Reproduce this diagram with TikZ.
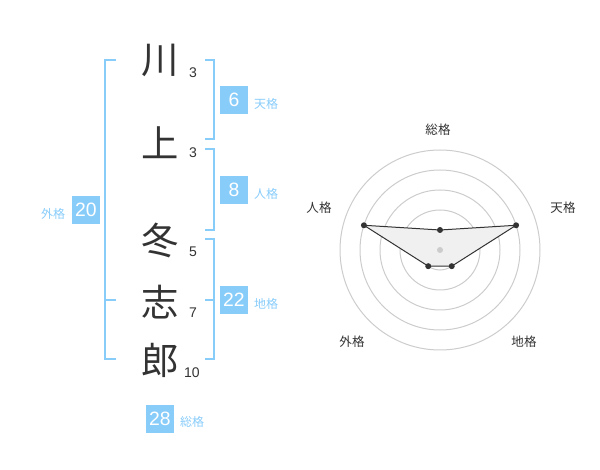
\documentclass[tikz,border=0pt]{standalone}
\usepackage{fontspec}
\setmainfont{Liberation Sans}
\newfontfamily\cjk{Noto Sans CJK JP}
\definecolor{kaku}{HTML}{88CCFA}
\definecolor{sumi}{HTML}{333333}
\definecolor{wa}{HTML}{CCCCCC}
\definecolor{naka}{HTML}{F0F0F0}

\begin{document}
\begin{tikzpicture}[x=0.75pt,y=-0.75pt,
    kanji/.style={font=\cjk\fontsize{28}{28}\selectfont, text=sumi, inner sep=0pt},
    kakusu/.style={font=\fontsize{10.5}{10.5}\selectfont, text=sumi, inner sep=0pt},
    hako/.style={fill=kaku, minimum size=21.5pt, inner sep=0pt, text=white, font=\fontsize{14.5}{14.5}\selectfont},
    mei/.style={font=\cjk\fontsize{9}{9}\selectfont, text=kaku, inner sep=0pt},
    rmei/.style={font=\cjk\fontsize{9.4}{9.4}\selectfont, text=sumi, inner sep=0pt},
    kakko/.style={kaku, line width=1.5pt},
    ten/.style={fill=sumi, draw=none}]
    \useasboundingbox (0,0) rectangle (600,470);

    % name
    \node[kanji] (k1) at (160,60) {川};
    \node[kanji] (k2) at (160,143) {上};
    \node[kanji] (k3) at (160,240) {冬};
    \node[kanji] (k4) at (160,302) {志};
    \node[kanji] (k5) at (160,360) {郎};
    \node[kakusu] (s1) at (193,73) {3};
    \node[kakusu] (s2) at (193,153) {3};
    \node[kakusu] (s3) at (193,252) {5};
    \node[kakusu] (s4) at (193,313) {7};
    \node[kakusu] (s5) at (192,373) {10};

    % brackets
    \draw[kakko] (205,60) -- (214,60) -- (214,139) -- (205,139);
    \draw[kakko] (205,149) -- (214,149) -- (214,230) -- (205,230);
    \draw[kakko] (205,239) -- (214,239) -- (214,359) -- (205,359);
    \draw[kakko] (205,300) -- (214,300);
    \draw[kakko] (116,60) -- (105,60) -- (105,359) -- (116,359);
    \draw[kakko] (105,300) -- (116,300);

    % totals
    \node[hako] (ten) at (234,100) {6};
    \node[mei] (tenm) at (266,104) {天格};
    \node[hako] (jin) at (234,190) {8};
    \node[mei] (jinm) at (266,194) {人格};
    \node[hako] (chi) at (234,300) {22};
    \node[mei] (chim) at (266,304) {地格};
    \node[hako] (gai) at (86,210) {20};
    \node[mei] (gaim) at (53,214) {外格};
    \node[hako] (sou) at (160,419) {28};
    \node[mei] (soum) at (192,422) {総格};

    % radar
    \begin{scope}[shift={(440,250)}, y=0.75pt]
        \foreach \r in {20,40,60,80,100}
            \draw[wa, line width=0.75pt] (0,0) circle (\r);
        \coordinate (pS) at (90:20);
        \coordinate (pT) at (18:80);
        \coordinate (pC) at (-54:20);
        \coordinate (pG) at (-126:20);
        \coordinate (pJ) at (162:80);
        \filldraw[fill=naka, draw=sumi, line width=0.75pt] (pS) -- (pT) -- (pC) -- (pG) -- (pJ) -- cycle;
        \fill[wa] (0,0) circle (2.25pt);
        \foreach \p in {pS,pT,pC,pG,pJ}
            \fill[ten] (\p) circle (2.25pt);
    \end{scope}
    \node[rmei] (rS) at (438,130) {総格};
    \node[rmei] (rT) at (563,208) {天格};
    \node[rmei] (rJ) at (319,208) {人格};
    \node[rmei] (rG) at (352,342) {外格};
    \node[rmei] (rC) at (524,342) {地格};
\end{tikzpicture}
\end{document}
